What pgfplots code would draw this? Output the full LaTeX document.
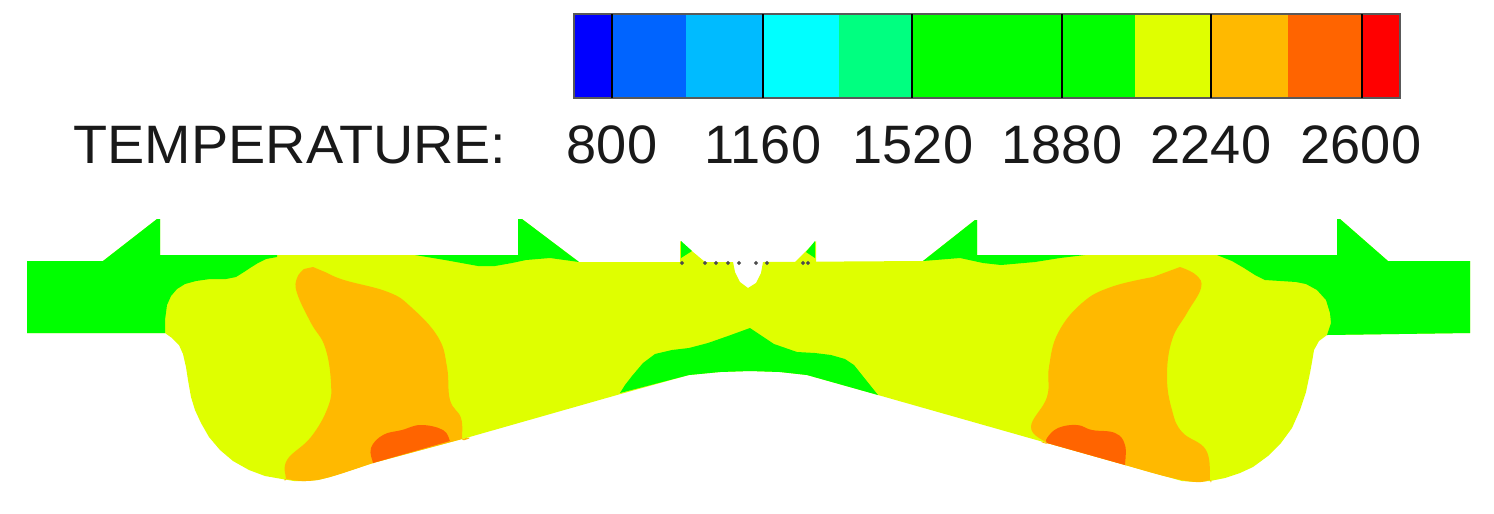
\documentclass[border=0pt]{standalone}
\usepackage{pgfplots}
\pgfplotsset{compat=1.18}
\usepackage{fontspec}
\setmainfont{Liberation Sans}
\definecolor{cb1}{HTML}{0000FF}
\definecolor{cb2}{HTML}{0064FF}
\definecolor{cb3}{HTML}{00BBFF}
\definecolor{cb4}{HTML}{00FFFF}
\definecolor{cb5}{HTML}{00FF80}
\definecolor{cb6}{HTML}{00FF00}
\definecolor{cb7}{HTML}{DFFF00}
\definecolor{cb8}{HTML}{FFB900}
\definecolor{cb9}{HTML}{FF6400}
\definecolor{cb10}{HTML}{FF0000}
\tikzset{lab/.style={anchor=base,inner sep=0pt,font=\fontsize{15.4}{18}\selectfont,text=black!90}}
\begin{document}
\begin{tikzpicture}
\begin{axis}[
    scale only axis,
    width=14.94cm, height=5.13cm,
    xmin=0, xmax=1494, ymin=0, ymax=513,
    y dir=reverse,
    hide axis,
    clip=false,
  ]
  \path (axis cs:0,0) rectangle (axis cs:1494,513);

  % colour bar
  \addplot[fill=cb1,draw=none] coordinates {(574,14)(612,14)(612,98)(574,98)} --cycle;
  \addplot[fill=cb2,draw=none] coordinates {(612,14)(686,14)(686,98)(612,98)} --cycle;
  \addplot[fill=cb3,draw=none] coordinates {(686,14)(763,14)(763,98)(686,98)} --cycle;
  \addplot[fill=cb4,draw=none] coordinates {(763,14)(839,14)(839,98)(763,98)} --cycle;
  \addplot[fill=cb5,draw=none] coordinates {(839,14)(912,14)(912,98)(839,98)} --cycle;
  \addplot[fill=cb6,draw=none] coordinates {(912,14)(1135,14)(1135,98)(912,98)} --cycle;
  \addplot[fill=cb7,draw=none] coordinates {(1135,14)(1211,14)(1211,98)(1135,98)} --cycle;
  \addplot[fill=cb8,draw=none] coordinates {(1211,14)(1288,14)(1288,98)(1211,98)} --cycle;
  \addplot[fill=cb9,draw=none] coordinates {(1288,14)(1362,14)(1362,98)(1288,98)} --cycle;
  \addplot[fill=cb10,draw=none] coordinates {(1362,14)(1400,14)(1400,98)(1362,98)} --cycle;
  % separators and frame
  \addplot[black!65,line width=0.55pt] coordinates {(574,14)(1400,14)(1400,98)(574,98)} --cycle;
  \addplot[black,line width=0.45pt] coordinates {(612,14)(612,98)};
  \addplot[black,line width=0.45pt] coordinates {(763,14)(763,98)};
  \addplot[black,line width=0.45pt] coordinates {(912,14)(912,98)};
  \addplot[black,line width=0.45pt] coordinates {(1062,14)(1062,98)};
  \addplot[black,line width=0.45pt] coordinates {(1211,14)(1211,98)};
  \addplot[black,line width=0.45pt] coordinates {(1362,14)(1362,98)};

  % labels
  \node[lab] at (axis cs:612,163) {800};
  \node[lab] at (axis cs:763,163) {1160};
  \node[lab] at (axis cs:913,163) {1520};
  \node[lab] at (axis cs:1062,163) {1880};
  \node[lab] at (axis cs:1211,163) {2240};
  \node[lab] at (axis cs:1361,163) {2600};
  \node[lab,xscale=1.03] at (axis cs:290,163) {TEMPERATURE:};

  % whole section, yellow band
  \addplot[fill=cb7,draw=none] coordinates {
    (27,261)(103,261)(157,219)(160,219)(160,255)(518,255)(518,219)(522,219)(579,262)
    (733,262)(735,272)(740,282)(748,288)(756,283)(761,273)(763,262)
    (923,261)(975,220)(977,220)(977,255)(1337,255)(1337,219)(1340,219)(1388,261)(1470,261)
    (1470,333)(1327,335)(1319,341)(1314,350)(1312,362)(1310,373)(1306,392)(1300,410)
    (1292,428)(1281,443)(1268,456)(1253,467)(1240,473)(1225,478)(1210,481)(1196,482)
    (1182,481)(1168,477)(1125,465)(1047,443)(878,395)(807,375)(780,372)(750,371)(720,372)
    (689,375)(617,395)(466,438)(373,463)(330,477)(318,480)(306,481)(294,481)(282,479)
    (265,476)(249,470)(233,461)(220,450)(209,437)(201,423)(195,410)(191,397)(188,380)
    (186,367)(183,354)(179,345)(172,338)(165,333)(27,333)
  } --cycle;
  % spikes at the centre
  \addplot[fill=cb7,draw=none] coordinates {(680,241)(705,262)(680,262)} --cycle;
  \addplot[fill=cb7,draw=none] coordinates {(816,241)(795,262)(816,262)} --cycle;
  \addplot[fill=cb6,draw=none] coordinates {(681,241)(692,251)(681,258)} --cycle;
  \addplot[fill=cb6,draw=none] coordinates {(815,241)(806,252)(815,258)} --cycle;

  % green regions
  \addplot[fill=cb6,draw=none] coordinates {
    (27,261)(103,261)(157,219)(160,219)(160,255)(277,255)(277,257)(266,259)(258,263)(250,268)
    (244,272)(236,277)(226,279)(210,279)(196,281)(185,284)(177,289)(171,296)(167,305)
    (165,320)(165,333)(27,333)
  } --cycle;
  \addplot[fill=cb6,draw=none] coordinates {
    (415,255)(518,255)(518,219)(522,219)(579,262)(550,258)(526,260)(512,263)(495,266)(478,266)(445,260)
  } --cycle;
  \addplot[fill=cb6,draw=none] coordinates {
    (923,261)(975,220)(977,220)(977,255)(1085,255)(1060,258)(1035,262)(1001,265)(983,263)(960,258)
  } --cycle;
  \addplot[fill=cb6,draw=none] coordinates {
    (1217,255)(1337,255)(1337,219)(1340,219)(1388,261)(1470,261)(1470,333)(1327,335)
    (1331,323)(1330,313)(1326,300)(1317,290)(1306,284)(1296,282)(1265,280)(1255,275)
    (1244,268)(1232,261)
  } --cycle;
  \addplot[fill=cb6,draw=none] coordinates {
    (620,393)(625,385)(632,376)(643,363)(655,354)(672,350)(689,348)(708,343)(728,336)(750,328)
    (762,336)(774,344)(797,352)(815,353)(831,355)(845,359)(854,365)(866,380)(878,395)
    (807,375)(780,372)(750,371)(720,372)(689,375)
  } --cycle;

  % orange regions
  \addplot[fill=cb8,draw=none,smooth,tension=0.7] coordinates {
    (313,267)(325,272)(344,280)(388,292)(411,307)(438,337)(447,367)(450,400)(461,418)
    (462,439)(462,439)(373,463)(373,463)(330,477)(306,481)(286,479)(286,479)(287,460)(311,437)
    (328,407)(331,383)(325,347)(311,323)(297,293)(297,278)(304,269)
  } --cycle;
  \addplot[fill=cb8,draw=none,smooth,tension=0.7] coordinates {
    (1180,267)(1196,275)(1201,288)(1187,313)(1172,340)(1167,377)(1172,410)(1182,432)
    (1206,450)(1210,480)(1210,480)(1196,482)(1168,477)(1125,465)(1125,465)(1047,443)(1047,443)(1031,427)
    (1047,397)(1049,367)(1058,333)(1082,303)(1111,287)(1153,277)
  } --cycle;

  % hottest patches
  \addplot[fill=cb9,draw=none,smooth,tension=0.7] coordinates {
    (373,463)(373,463)(371,448)(383,435)(402,430)(421,425)(443,430)(450,441)(450,441)
  } --cycle;
  \addplot[fill=cb9,draw=none,smooth,tension=0.7] coordinates {
    (1047,443)(1047,443)(1047,438)(1058,428)(1077,425)(1092,430)(1115,433)(1125,445)(1125,465)(1125,465)
  } --cycle;

  % mesh dots along the gap
  \addplot[only marks,mark=*,mark size=0.35pt,black!70] coordinates {
    (682,263)(705,263)(716,263)(728,263)(739,263)(756,263)(767,263)(803,263)(808,263)
  };
\end{axis}
\end{tikzpicture}
\end{document}
